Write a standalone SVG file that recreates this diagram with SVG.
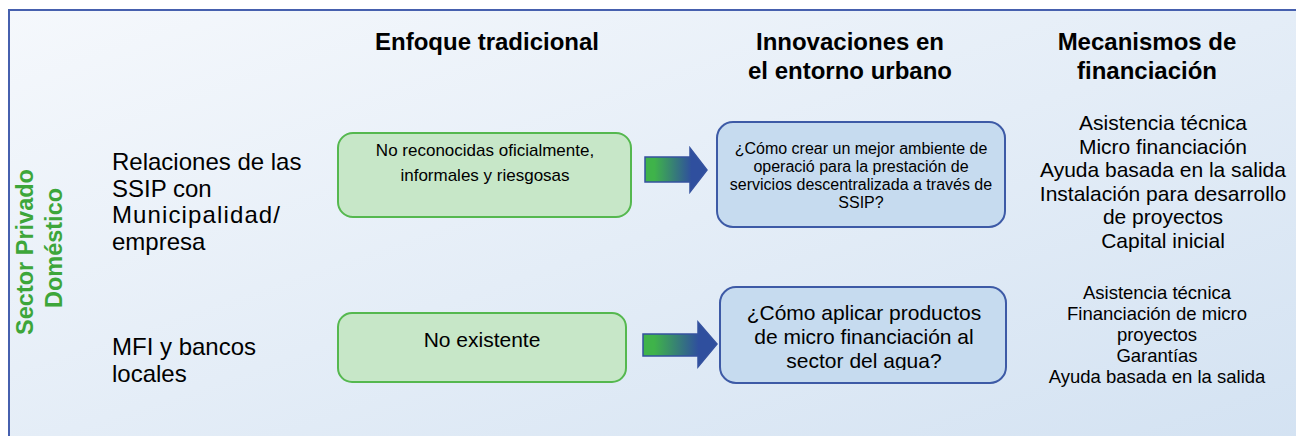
<svg xmlns="http://www.w3.org/2000/svg" width="1296" height="436" viewBox="0 0 1296 436">
<style>
text{font-family:"Liberation Sans",Arial,sans-serif;fill:#000}
.hd{font-size:24px;font-weight:bold;text-anchor:middle}
.lab{font-size:24px}
.side{font-size:23.5px;font-weight:bold;fill:#3da63a;text-anchor:middle}
.gbox{fill:#c7e7c8;stroke:#55b84f;stroke-width:2}
.bbox{fill:#c6dbef;stroke:#3d5aa6;stroke-width:2}
.mid{text-anchor:middle}
.arr{fill:url(#ag);stroke:#35529f;stroke-width:1.5}
</style>
<defs>
<linearGradient id="bg" x1="0" y1="0" x2="1" y2="1">
<stop offset="0" stop-color="#f5f8fc"/>
<stop offset="1" stop-color="#d3e2f2"/>
</linearGradient>
<linearGradient id="ag" x1="0" y1="0" x2="1" y2="0">
<stop offset="0.15" stop-color="#3fb34a"/>
<stop offset="0.75" stop-color="#2f4f9e"/>
</linearGradient>
<clipPath id="c2"><rect x="720" y="287" width="290" height="83"/></clipPath>
</defs>
<rect width="1296" height="436" fill="#ffffff"/>
<rect x="9" y="10" width="1300" height="440" fill="url(#bg)" stroke="#4660ae" stroke-width="2"/>

<g id="headers">
<text class="hd" x="487" y="50">Enfoque tradicional</text>
<text class="hd" x="850" y="50">Innovaciones en</text>
<text class="hd" x="850" y="79">el entorno urbano</text>
<text class="hd" x="1147" y="50">Mecanismos de</text>
<text class="hd" x="1147" y="79">financiación</text>
</g>

<g id="sector">
<text class="side" transform="translate(33,252) rotate(-90)">Sector Privado</text>
<text class="side" transform="translate(62,248) rotate(-90)">Doméstico</text>
</g>

<g id="row1-label">
<text class="lab" x="112" y="170">Relaciones de las</text>
<text class="lab" x="112" y="196.5">SSIP con</text>
<text class="lab" x="112" y="223" textLength="168" lengthAdjust="spacing">Municipalidad/</text>
<text class="lab" x="112" y="249.5">empresa</text>
</g>
<g id="row2-label">
<text class="lab" x="112" y="355">MFI y bancos</text>
<text class="lab" x="112" y="382">locales</text>
</g>

<g id="trad1">
<rect class="gbox" x="338" y="133" width="293" height="84" rx="15"/>
<text class="mid" x="485" y="156" font-size="17">No reconocidas oficialmente,</text>
<text class="mid" x="485" y="181" font-size="17">informales y riesgosas</text>
</g>
<g id="trad2">
<rect class="gbox" x="338" y="313" width="288" height="69" rx="14"/>
<text class="mid" x="482" y="347" font-size="21">No existente</text>
</g>

<g id="innov1">
<rect class="bbox" x="717" y="122" width="288" height="105" rx="16"/>
<text class="mid" x="861" y="154" font-size="16">¿Cómo crear un mejor ambiente de</text>
<text class="mid" x="861" y="172" font-size="16">operació para la prestación de</text>
<text class="mid" x="861" y="190" font-size="16">servicios descentralizada a través de</text>
<text class="mid" x="861" y="208" font-size="16">SSIP?</text>
</g>
<g id="innov2">
<rect class="bbox" x="720" y="287" width="286" height="96" rx="16"/>
<g clip-path="url(#c2)">
<text class="mid" x="864" y="320" font-size="21">¿Cómo aplicar productos</text>
<text class="mid" x="864" y="344" font-size="21">de micro financiación al</text>
<text class="mid" x="864" y="368" font-size="21">sector del agua?</text>
</g>
</g>

<g id="mech1" font-size="21">
<text class="mid" x="1163" y="130">Asistencia técnica</text>
<text class="mid" x="1163" y="153.5">Micro financiación</text>
<text class="mid" x="1163" y="177">Ayuda basada en la salida</text>
<text class="mid" x="1163" y="200.5">Instalación para desarrollo</text>
<text class="mid" x="1163" y="224">de proyectos</text>
<text class="mid" x="1163" y="247.5">Capital inicial</text>
</g>
<g id="mech2" font-size="18.5">
<text class="mid" x="1157" y="299">Asistencia técnica</text>
<text class="mid" x="1157" y="320">Financiación de micro</text>
<text class="mid" x="1157" y="341">proyectos</text>
<text class="mid" x="1157" y="362">Garantías</text>
<text class="mid" x="1157" y="383">Ayuda basada en la salida</text>
</g>

<g id="connectors">
<path class="arr" d="M645,157 H690 V148 L707,170 L690,192 V182 H645 Z"/>
<path class="arr" d="M643,334 H698 V322 L717,344 L698,367 V356 H643 Z"/>
</g>
</svg>
